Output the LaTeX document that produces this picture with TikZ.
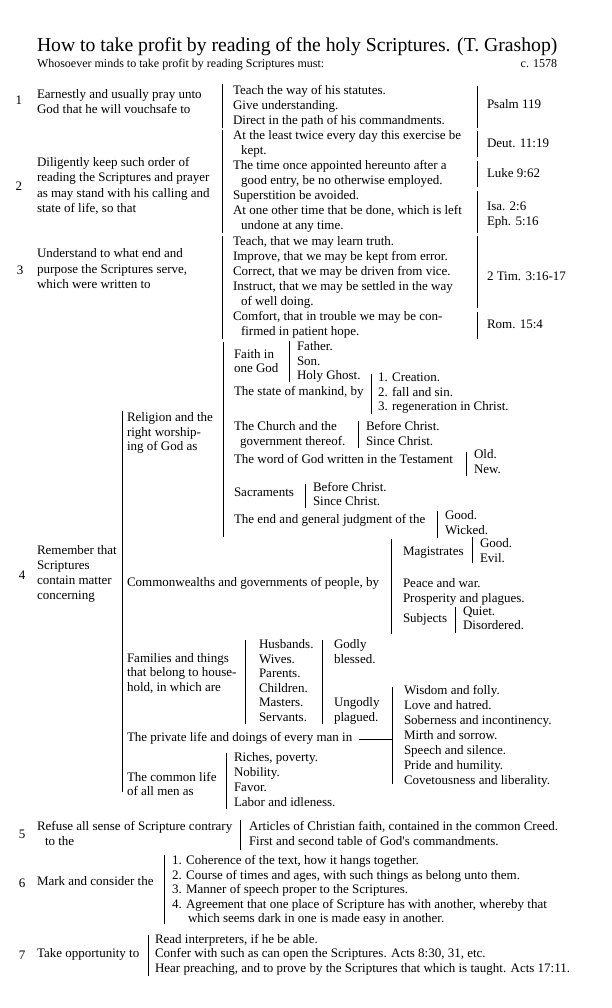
\documentclass[tikz,border=0pt]{standalone}
\usepackage{fontspec}
\setmainfont{Liberation Serif}
\begin{document}
\begin{tikzpicture}[x=1pt,y=-1pt,
  every node/.style={inner sep=0pt, outer sep=0pt},
  tx/.style={font=\fontsize{13}{15.2}\selectfont, align=left, anchor=west},
  tb/.style={font=\fontsize{13}{15.1}\selectfont, align=left, anchor=west},
  tt/.style={font=\fontsize{13}{14.5}\selectfont, align=left, anchor=west},
  tf/.style={font=\fontsize{13}{15}\selectfont, align=left, anchor=west},
  num/.style={font=\fontsize{13}{15}\selectfont, anchor=center},
  bar/.style={line width=1pt}]
\useasboundingbox[fill=white] (0,0) rectangle (612,1008);

% title
\node[anchor=base west, font=\fontsize{19.7}{22}\selectfont] (title) at (37,52) {How to take profit by reading of the holy Scriptures. (T. Grashop)};
\node[anchor=base west, font=\fontsize{12}{13}\selectfont] (sub) at (37,68) {Whosoever minds to take profit by reading Scriptures must:};
\node[anchor=base east, font=\fontsize{12}{13}\selectfont] (date) at (557,68) {c. 1578};

% item 1
\node[num] (n1) at (19,100) {1};
\node[tb] (l1) at (37,103) {\strut Earnestly and usually pray unto\\\strut God that he will vouchsafe to};
\node[tb] (r1) at (233,106.1) {\strut Teach the way of his statutes.\\\strut Give understanding.\\\strut Direct in the path of his commandments.};
\draw[bar] (222,84) -- (222,128);
\node[tb] (ps) at (487,105) {\strut Psalm 119};
\draw[bar] (477,86) -- (477,128);

% item 2
\node[num] (n2) at (19,186) {2};
\node[tb] (l2) at (37,186.5) {\strut Diligently keep such order of\\\strut reading the Scriptures and prayer\\\strut as may stand with his calling and\\\strut state of life, so that};
\node[tb] (r2) at (233,181.6) {\strut At the least twice every day this exercise be\\\strut\hspace*{8pt}kept.\\\strut The time once appointed hereunto after a\\\strut\hspace*{8pt}good entry, be no otherwise employed.\\\strut Superstition be avoided.\\\strut At one other time that be done, which is left\\\strut\hspace*{8pt}undone at any time.};
\draw[bar] (222,130.5) -- (222,233.5);
\node[tb] (deut) at (487,144) {\strut Deut. 11:19};
\draw[bar] (477,131) -- (477,157);
\node[tb] (luke) at (487,174) {\strut Luke 9:62};
\draw[bar] (477,161) -- (477,187);
\node[tb] (isa) at (487,215) {\strut Isa. 2:6\\\strut Eph. 5:16};
\draw[bar] (477,191) -- (477,233.5);

% item 3
\node[num] (n3) at (20,270) {3};
\node[tb] (l3) at (37,270) {\strut Understand to what end and\\\strut purpose the Scriptures serve,\\\strut which were written to};
\node[tb] (r3) at (233,287.3) {\strut Teach, that we may learn truth.\\\strut Improve, that we may be kept from error.\\\strut Correct, that we may be driven from vice.\\\strut Instruct, that we may be settled in the way\\\strut\hspace*{8pt}of well doing.\\\strut Comfort, that in trouble we may be con-\\\strut\hspace*{8pt}firmed in patient hope.};
\draw[bar] (222,236) -- (222,339);
\node[tb] (tim) at (487,277) {\strut 2 Tim. 3:16-17};
\draw[bar] (477,236) -- (477,308);
\node[tb] (rom) at (487,325) {\strut Rom. 15:4};
\draw[bar] (477,311.5) -- (477,339);

% item 4
\node[num] (n4) at (22,575) {4};
\node[tx] (l4) at (37,574) {\strut Remember that\\\strut Scriptures\\\strut contain matter\\\strut concerning};
\draw[bar] (122,411) -- (122,792);

% religion
\node[tt] (rel) at (127,433.5) {\strut Religion and the\\\strut right worship-\\\strut ing of God as};
\draw[bar] (223,342) -- (223,537);
\node[tt] (faith) at (234,362.5) {\strut Faith in\\\strut one God};
\draw[bar] (289,341) -- (289,382);
\node[tt] (faithl) at (297,362.5) {\strut Father.\\\strut Son.\\\strut Holy Ghost.};
\node[tt] (state) at (234,393) {\strut The state of mankind, by};
\draw[bar] (371,374) -- (371,414);
\node[tt] (statel) at (378,393.5) {\strut 1. Creation.\\\strut 2. fall and sin.\\\strut 3. regeneration in Christ.};
\node[tt] (church) at (234,435) {\strut The Church and the\\\strut\hspace*{6pt}government thereof.};
\draw[bar] (358,421) -- (358,448);
\node[tt] (churchl) at (366,435) {\strut Before Christ.\\\strut Since Christ.};
\node[tt] (word) at (234,461) {\strut The word of God written in the Testament};
\draw[bar] (466,452) -- (466,476);
\node[tt] (wordl) at (474,463) {\strut Old.\\\strut New.};
\node[tt] (sacr) at (234,494) {\strut Sacraments};
\draw[bar] (305,484) -- (305,508);
\node[tt] (sacrl) at (313,495.5) {\strut Before Christ.\\\strut Since Christ.};
\node[tt] (judg) at (234,521) {\strut The end and general judgment of the};
\draw[bar] (437,511) -- (437,538);
\node[tt] (judgl) at (445,524) {\strut Good.\\\strut Wicked.};

% commonwealths
\node[tx] (comm) at (127,583) {\strut Commonwealths and governments of people, by};
\draw[bar] (391,539) -- (391,634);
\node[tx] (mag) at (403,552) {\strut Magistrates};
\draw[bar] (472,537) -- (472,563);
\node[tt] (magl) at (480,552) {\strut Good.\\\strut Evil.};
\node[tx] (peace) at (403,592) {\strut Peace and war.\\\strut Prosperity and plagues.};
\node[tx] (subj) at (403,619.5) {\strut Subjects};
\draw[bar] (455,607) -- (455,633);
\node[tt] (subjl) at (463,619.5) {\strut Quiet.\\\strut Disordered.};

% families
\node[tt] (fam) at (127,674) {\strut Families and things\\\strut that belong to house-\\\strut hold, in which are};
\draw[bar] (245,640) -- (245,724);
\node[tt] (faml) at (259,682) {\strut Husbands.\\\strut Wives.\\\strut Parents.\\\strut Children.\\\strut Masters.\\\strut Servants.};
\draw[bar] (322,640) -- (322,724);
\node[tt] (godly) at (334,653) {\strut Godly\\\strut blessed.};
\node[tt] (ungodly) at (334,711) {\strut Ungodly\\\strut plagued.};

% private life
\node[tx] (priv) at (127,738) {\strut The private life and doings of every man in};
\coordinate (pbtop) at (392,687);
\coordinate (pbbot) at (392,784);
\draw[bar] (pbtop) -- (pbbot);
\draw[bar] ([xshift=7pt,yshift=-1pt]priv.east) -- ([yshift=-1pt]priv.east -| pbtop);
\node[tf] (privl) at (404,736) {\strut Wisdom and folly.\\\strut Love and hatred.\\\strut Soberness and incontinency.\\\strut Mirth and sorrow.\\\strut Speech and silence.\\\strut Pride and humility.\\\strut Covetousness and liberality.};

% common life
\node[tt] (common) at (127,785.5) {\strut The common life\\\strut of all men as};
\draw[bar] (226,753) -- (226,809);
\node[tf] (commonl) at (234,781) {\strut Riches, poverty.\\\strut Nobility.\\\strut Favor.\\\strut Labor and idleness.};

% item 5
\node[num] (n5) at (22,834) {5};
\node[tf] (l5) at (37,835) {\strut Refuse all sense of Scripture contrary\\\strut\hspace*{8pt}to the};
\draw[bar] (240,820) -- (240,850);
\node[tf] (r5) at (249,835) {\strut Articles of Christian faith, contained in the common Creed.\\\strut First and second table of God\textquotesingle s commandments.};

% item 6
\node[num] (n6) at (22,883) {6};
\node[tt] (l6) at (37,883) {\strut Mark and consider the};
\draw[bar] (164,855) -- (164,924);
\node[tt] (r6) at (172,891) {\strut 1. Coherence of the text, how it hangs together.\\\strut 2. Course of times and ages, with such things as belong unto them.\\\strut 3. Manner of speech proper to the Scriptures.\\\strut 4. Agreement that one place of Scripture has with another, whereby that\\\strut\hspace*{16pt}which seems dark in one is made easy in another.};

% item 7
\node[num] (n7) at (22,955) {7};
\node[tt] (l7) at (37,955) {\strut Take opportunity to};
\draw[bar] (148,935) -- (148,976);
\node[tt] (r7) at (155,955) {\strut Read interpreters, if he be able.\\\strut Confer with such as can open the Scriptures. Acts 8:30, 31, etc.\\\strut Hear preaching, and to prove by the Scriptures that which is taught. Acts 17:11.};
\end{tikzpicture}
\end{document}
